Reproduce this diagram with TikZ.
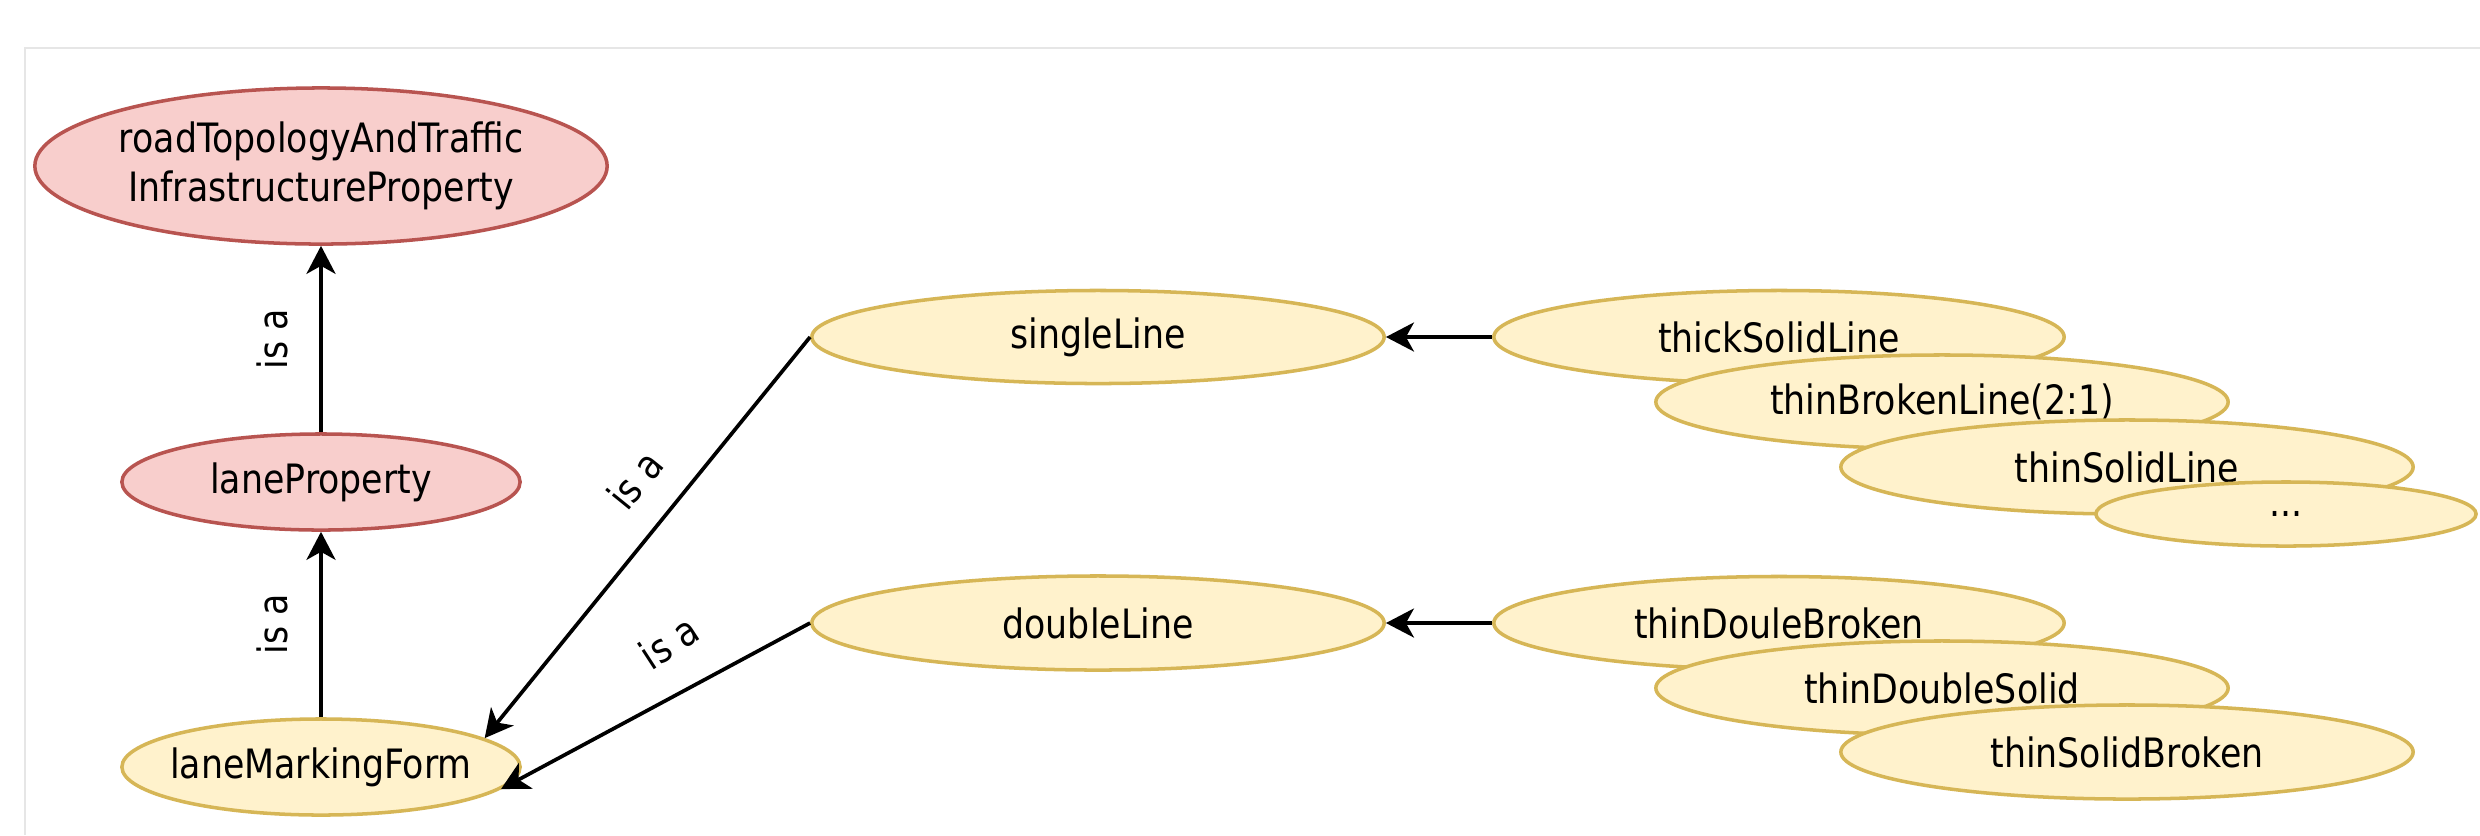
\documentclass[tikz,border=0pt]{standalone}
\usepackage{fontspec}
\setmainfont{DejaVu Sans}[FakeStretch=0.86]
\usetikzlibrary{shapes.geometric,arrows.meta}
\definecolor{redfill}{HTML}{F8CECC}
\definecolor{reddraw}{HTML}{B85450}
\definecolor{yelfill}{HTML}{FFF2CC}
\definecolor{yeldraw}{HTML}{D6B656}
\definecolor{framegray}{HTML}{E6E6E6}
\begin{document}
\begin{tikzpicture}[x=0.01cm,y=-0.01cm,
  font=\fontsize{11.5}{13.8}\selectfont,
  redell/.style={ellipse, draw=reddraw, fill=redfill, line width=1pt, inner sep=0pt,
     label={[align=center, inner sep=0pt]center:#1}},
  yelell/.style={ellipse, draw=yeldraw, fill=yelfill, line width=1pt, inner sep=0pt,
     label={[align=center, inner sep=0pt]center:#1}},
  arr/.style={-{Stealth[length=0.28cm,width=0.29cm,inset=0.08cm]}, line width=1.05pt, black},
  lbl/.style={inner sep=0pt}]
\useasboundingbox (0,0) rectangle (2480,835);
\fill[white] (0,0) rectangle (2480,835);
\draw[framegray, line width=0.6pt] (25,835) -- (25,48) -- (2480,48);

% left column
\node[redell={roadTopologyAndTraffic\\InfrastructureProperty}, minimum width=5.72cm, minimum height=1.56cm] (road) at (321,166) {};
\node[redell={laneProperty}, minimum width=3.98cm, minimum height=0.96cm] (laneprop) at (321,482) {};
\node[yelell={laneMarkingForm}, minimum width=3.98cm, minimum height=0.96cm] (lmf) at (321,767) {};

% middle column
\node[yelell={singleLine}, minimum width=5.72cm, minimum height=0.93cm] (single) at (1098,337) {};
\node[yelell={doubleLine}, minimum width=5.72cm, minimum height=0.94cm] (double) at (1098,623) {};

% right stacks (single)
\node[yelell={thickSolidLine}, minimum width=5.70cm, minimum height=0.93cm] (thick) at (1779,337) {};
\node[yelell={thinBrokenLine(2:1)}, minimum width=5.72cm, minimum height=0.94cm] (thinbroken) at (1942,402) {};
\node[yelell={thinSolidLine}, minimum width=5.72cm, minimum height=0.94cm] (thinsolid) at (2127,467) {};
\node[yelell={...}, minimum width=3.80cm, minimum height=0.64cm] (dots) at (2286,514) {};

% right stacks (double)
\node[yelell={thinDouleBroken}, minimum width=5.70cm, minimum height=0.93cm] (tdb) at (1779,623) {};
\node[yelell={thinDoubleSolid}, minimum width=5.72cm, minimum height=0.94cm] (tds) at (1942,688) {};
\node[yelell={thinSolidBroken}, minimum width=5.72cm, minimum height=0.94cm] (tsb) at (2127,752) {};

% connectors
\draw[arr] (laneprop.north) -- (road.south) coordinate[midway] (m1);
\draw[arr] (lmf.north) -- (laneprop.south) coordinate[midway] (m2);
\draw[arr] (single.west) -- (lmf.10);
\draw[arr] (double.west) -- (lmf.-7);
\draw[arr] (thick.west) -- (single.east);
\draw[arr] (tdb.west) -- (double.east);

% labels
\node[lbl, rotate=90] (l1) at ([xshift=-0.49cm]m1) {is a};
\node[lbl, rotate=90] (l2) at ([xshift=-0.49cm]m2) {is a};
\node[lbl, rotate=51] (l3) at (635,480) {is a};
\node[lbl, rotate=33] (l4) at (669,642) {is a};
\end{tikzpicture}
\end{document}
